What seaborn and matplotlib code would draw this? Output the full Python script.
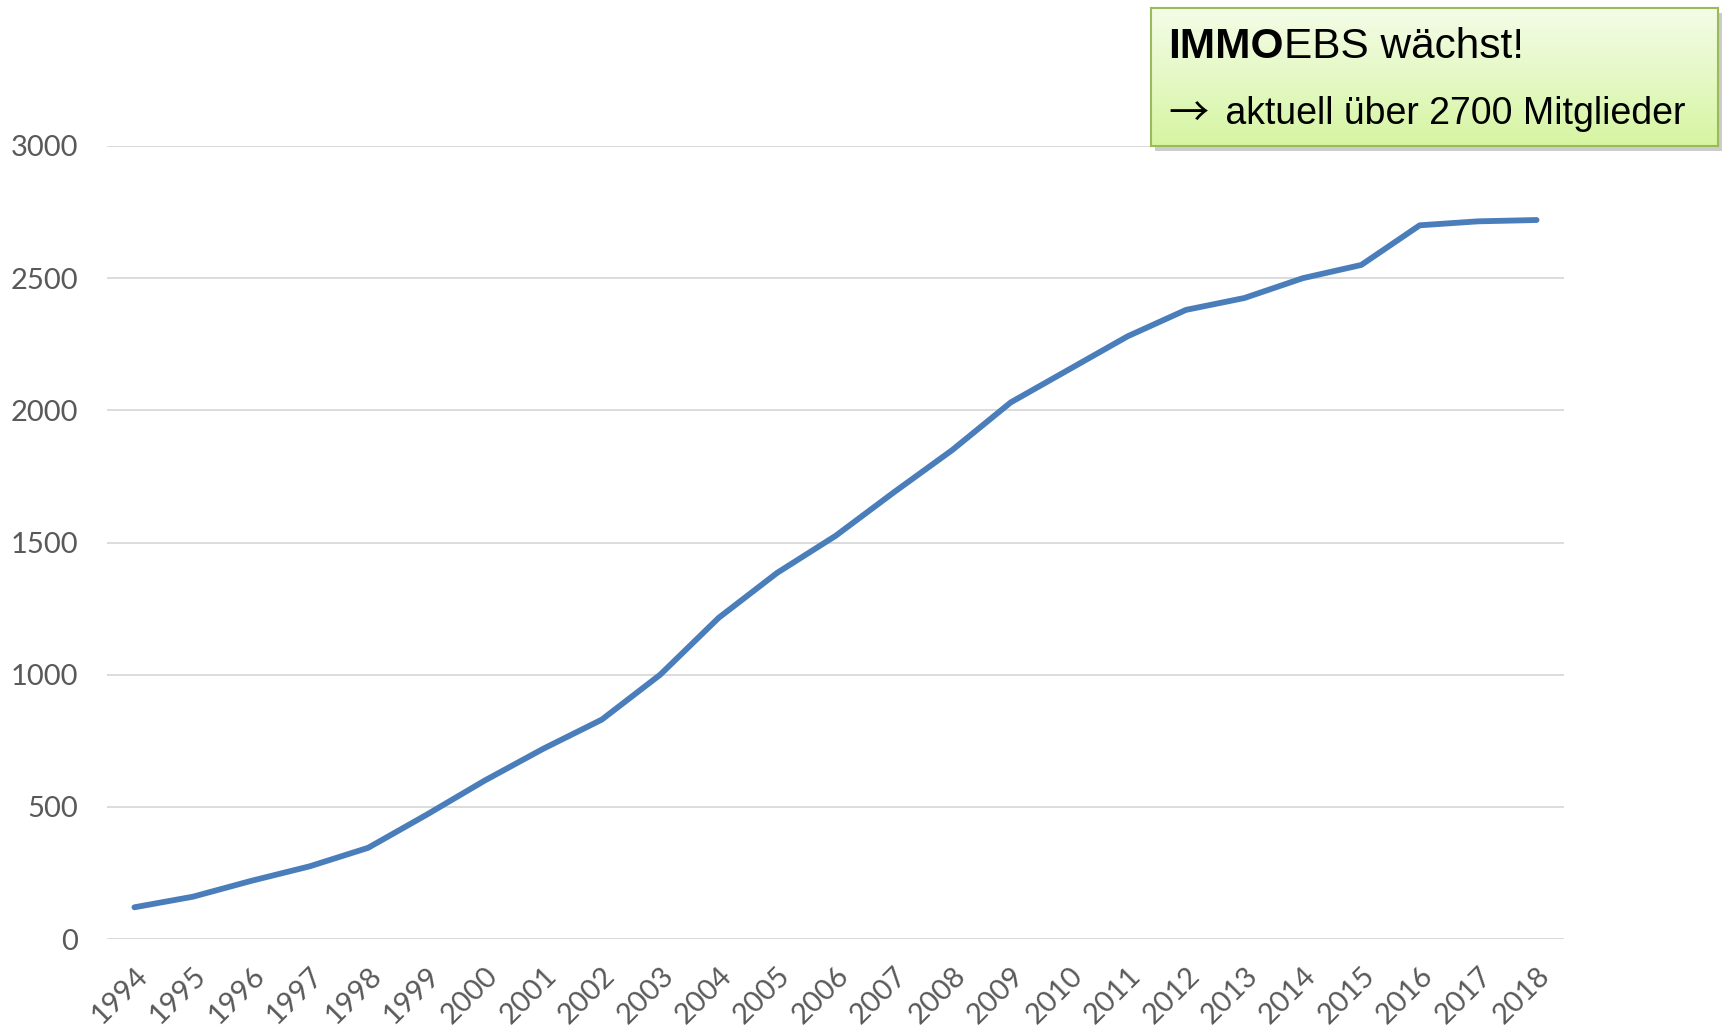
import numpy as np
import pandas as pd
import matplotlib
matplotlib.use("Agg")
import matplotlib.pyplot as plt
import seaborn as sns
from matplotlib.patches import Rectangle

years = [1994, 1995, 1996, 1997, 1998, 1999, 2000, 2001, 2002, 2003, 2004, 2005,
         2006, 2007, 2008, 2009, 2010, 2011, 2012, 2013, 2014, 2015, 2016, 2017, 2018]
members = [120, 160, 220, 275, 345, 470, 600, 720, 830, 1000, 1215, 1385,
           1525, 1690, 1850, 2030, 2155, 2280, 2380, 2425, 2500, 2550, 2700, 2715, 2720]
y_ticks = [0, 500, 1000, 1500, 2000, 2500, 3000]
box_title_bold = "IMMO"
box_title_rest = "EBS wächst!"
box_arrow = "→"
box_line2 = "aktuell über 2700 Mitglieder"

sns.set_theme(style="white")
plt.rcParams['font.family'] = ['Lato', 'DejaVu Sans']

W, H = 1725, 1028
fig = plt.figure(figsize=(W / 100, H / 100), dpi=100)
ax = fig.add_axes([107 / W, 1 - 939 / H, (1564 - 107) / W, (939 - 146) / H])

df = pd.DataFrame({"year": years, "members": members})
sns.lineplot(data=df, x="year", y="members", ax=ax, color="#4A7EBB", linewidth=4.2,
             solid_capstyle="round")

ax.set_xlim(years[0] - 0.47, years[-1] + 0.47)
ax.set_ylim(0, 3000)
ax.set_yticks(y_ticks)
ax.set_xticks(years)
ax.set_xticklabels([str(y) for y in years], rotation=45, ha="right",
                   rotation_mode="anchor")
ax.tick_params(axis="both", labelsize=21, colors="#595959", length=0)
ax.tick_params(axis="y", pad=21)
ax.tick_params(axis="x", pad=17)
ax.yaxis.grid(True, color="#D9D9D9", linewidth=1.3)
ax.xaxis.grid(False)
for s in ax.spines.values():
    s.set_visible(False)
ax.set_xlabel("")
ax.set_ylabel("")

# annotation box
bx0, bx1, by0, by1 = 1151, 1718, 8, 146
shadow = Rectangle(((bx0 + 4) / W, 1 - (by1 + 5) / H), (bx1 - bx0) / W, (by1 - by0) / H,
                   transform=fig.transFigure, facecolor="#000000", alpha=0.2,
                   edgecolor="none", zorder=5)
fig.patches.append(shadow)
bax = fig.add_axes([bx0 / W, 1 - by1 / H, (bx1 - bx0) / W, (by1 - by0) / H], zorder=10)
grad = np.linspace(0, 1, 256).reshape(-1, 1)
top = np.array([0xF4, 0xFC, 0xE8]) / 255
bot = np.array([0xD6, 0xF5, 0xA2]) / 255
img = top[None, None, :] * (1 - grad[:, :, None]) + bot[None, None, :] * grad[:, :, None]
bax.imshow(img, aspect="auto", extent=[0, 1, 0, 1], origin="upper")
bax.set_xlim(0, 1)
bax.set_ylim(0, 1)
bax.set_xticks([])
bax.set_yticks([])
for s in bax.spines.values():
    s.set_visible(True)
    s.set_color("#9BBB59")
    s.set_linewidth(1.5)

fam = ['Liberation Sans', 'DejaVu Sans']
t1 = bax.text(0.03, 0.72, box_title_bold, fontsize=30.5, fontweight="bold",
              family=fam, va="center", ha="left", color="black")
bax.annotate(box_title_rest, xy=(1, 0), xycoords=t1, va="bottom", ha="left",
             fontsize=30.5, family=fam, color="black")
ta = bax.text(0.03, 0.23, box_arrow, fontsize=29, family=['Noto Sans CJK SC', 'DejaVu Sans'],
              va="center", ha="left", color="black")
bax.annotate(" " + box_line2, xy=(1, 0.5), xycoords=ta, xytext=(5, 0),
             textcoords="offset points", va="center", ha="left",
             fontsize=27, family=fam, color="black")

fig.savefig("out.png", dpi=100, facecolor="white")
